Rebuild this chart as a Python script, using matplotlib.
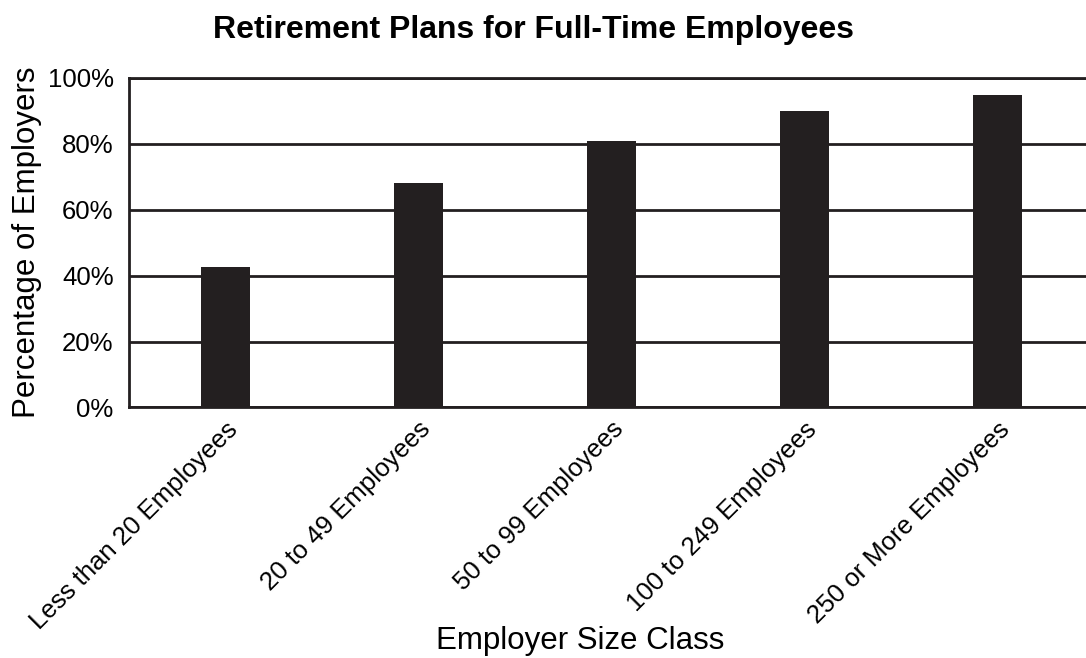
import numpy as np
import matplotlib
matplotlib.use("Agg")
import matplotlib.pyplot as plt
from matplotlib.ticker import PercentFormatter

# data
categories = ["Less than 20 Employees", "20 to 49 Employees", "50 to 99 Employees",
              "100 to 249 Employees", "250 or More Employees"]
percentages = [42.7, 68.0, 80.8, 89.8, 94.6]
y_ticks = [0, 20, 40, 60, 80, 100]

plt.rcParams['font.family'] = ['Liberation Sans', 'DejaVu Sans']

fig = plt.figure(figsize=(10.86, 6.58), dpi=100)
# the right edge of the plot runs off the canvas in the original
ax = fig.add_axes([0.1188, 0.3807, 0.8886, 0.5015])

x = np.arange(len(categories))
ax.set_axisbelow(True)
ax.yaxis.grid(True, color='#231f20', linewidth=2)
ax.bar(x, percentages, width=0.255, color='#231f20', zorder=3)

ax.set_xlim(-0.5, len(categories) - 0.5)
ax.set_ylim(0, 100)
ax.set_yticks(y_ticks)
ax.yaxis.set_major_formatter(PercentFormatter(decimals=0))
ax.set_xticks(x)
ax.set_xticklabels(categories, rotation=45, ha='right', rotation_mode='anchor')
ax.tick_params(axis='both', length=0, labelsize=18.5, colors='black')
ax.tick_params(axis='x', pad=7)
ax.tick_params(axis='y', pad=11)

for side in ['left', 'bottom', 'top', 'right']:
    ax.spines[side].set_color('#231f20')
    ax.spines[side].set_linewidth(2)

fig.text(0.025, 0.3807 + 0.5015 / 2, "Percentage of Employers", rotation=90,
         ha='center', va='center', fontsize=22.5)
fig.text(0.491, 0.955, "Retirement Plans for Full-Time Employees",
         ha='center', va='center', fontsize=23, fontweight='bold')
fig.text(0.534, 0.026, "Employer Size Class", ha='center', va='center', fontsize=22.5)

fig.savefig("out.png", dpi=100)
